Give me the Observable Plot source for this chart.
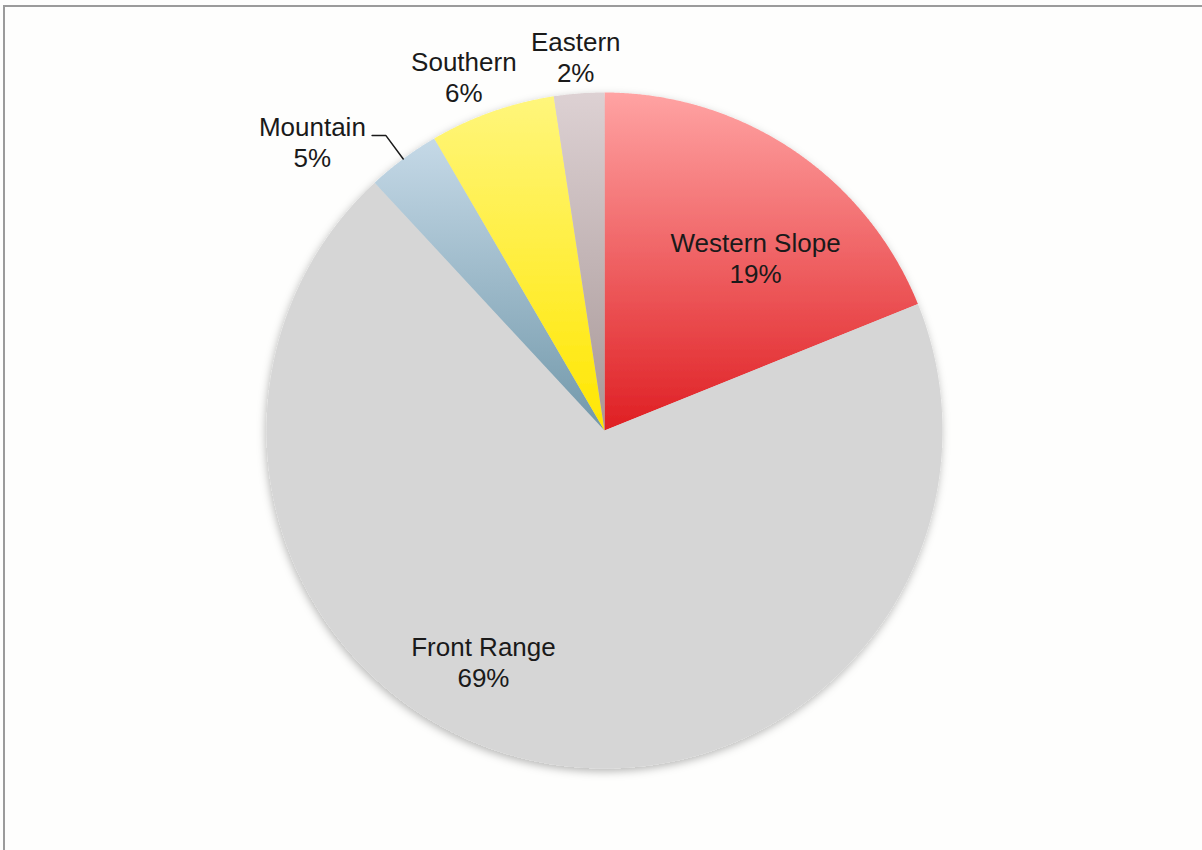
<!DOCTYPE html>
<html><head><meta charset="utf-8">
<script src="https://cdn.jsdelivr.net/npm/d3@7"></script>
<script src="https://cdn.jsdelivr.net/npm/@observablehq/plot@0.6"></script>
<style>
html,body{margin:0;padding:0;background:#fff;}
#wrap{position:relative;width:1202px;height:850px;overflow:hidden;background:#fefefd;}
#chart{position:absolute;left:0;top:0;}
#frame{position:absolute;left:3px;top:5px;right:-10px;bottom:-10px;border-left:2px solid #9b9b9b;border-top:2px solid #9b9b9b;pointer-events:none;}
</style></head><body>
<div id="wrap"><div id="chart"></div><div id="frame"></div></div>
<script>
// ---- data ----
const regions = ["Western Slope", "Front Range", "Mountain", "Southern", "Eastern"];
const shares = [18.9, 69.2, 3.5, 6.0, 2.4];
const shareLabels = ["19%", "69%", "5%", "6%", "2%"];
// ---- style ----
const gradTop = ["#ffa3a3", "#d6d6d6", "#c5d9e7", "#fff67c", "#ddd1d3"];
const gradBottom = ["#df1f23", "#d6d6d6", "#7298aa", "#ffe600", "#a79797"];
// label layout: angle offset from slice middle (deg) and radius (fraction of pie radius)
const labelAngleOffset = [7.3, 14.93, -8.9, -2.3, -0.1];
const labelRadius = [0.677, 0.7747, 1.213, 1.1235, 1.106];
const leaderFor = "Mountain";

const W = 1202, H = 850, CX = 604, CY = 430, R = 338;

const arcs = d3.pie().sort(null).value(d => d)(shares);
const pt = (a, r) => ({x: r * Math.sin(a), y: r * Math.cos(a)});

const sliceRows = [];
arcs.forEach((a, i) => {
  const name = regions[i];
  const fill = `url(#grad${i})`;
  sliceRows.push({name, fill, ...pt(0, 0)});
  const n = Math.max(2, Math.ceil((a.endAngle - a.startAngle) / (Math.PI / 720)));
  for (let k = 0; k <= n; k++) {
    const t = a.startAngle + (a.endAngle - a.startAngle) * k / n;
    sliceRows.push({name, fill, ...pt(t, 1)});
  }
  sliceRows.push({name, fill, ...pt(0, 0)});
});

const labelRows = arcs.map((a, i) => {
  const mid = (a.startAngle + a.endAngle) / 2 + labelAngleOffset[i] * Math.PI / 180;
  return {...pt(mid, labelRadius[i]), text: regions[i] + "\n" + shareLabels[i]};
});

const li = regions.indexOf(leaderFor);
const lmid = (arcs[li].startAngle + arcs[li].endAngle) / 2;
const l0 = pt(lmid, 1.0), l1 = pt(lmid, 1.086);
const leaderRows = [l0, l1, {x: l1.x - 0.041, y: l1.y}];

const defs = () => {
  const ns = "http://www.w3.org/2000/svg";
  const d = document.createElementNS(ns, "defs");
  let html = "";
  gradTop.forEach((c, i) => {
    html += `<linearGradient id="grad${i}" x1="0" y1="0" x2="0" y2="1"><stop offset="0" stop-color="${c}"/><stop offset="1" stop-color="${gradBottom[i]}"/></linearGradient>`;
  });
  html += `<filter id="pieShadow" x="-10%" y="-10%" width="120%" height="120%"><feDropShadow dx="-1" dy="3" stdDeviation="4" flood-color="#000" flood-opacity="0.28"/></filter>`;
  d.innerHTML = html;
  return d;
};

const chart = Plot.plot({
  width: W, height: H,
  margin: 0,
  x: {domain: [-CX / R, (W - CX) / R], axis: null},
  y: {domain: [-(H - CY) / R, CY / R], axis: null},
  color: {type: "identity"},
  style: {background: "transparent", overflow: "visible"},
  marks: [
    defs,
    Plot.line(sliceRows, {x: "x", y: "y", z: "name", fill: "fill", stroke: "none", curve: "linear"}),
    Plot.line(leaderRows, {x: "x", y: "y", stroke: "#1a1a1a", strokeWidth: 1.5}),
    Plot.text(labelRows, {x: "x", y: "y", text: "text", fontSize: 26, lineHeight: 31 / 26, dy: -1.5,
      fill: "#1a1a1a", fontFamily: "'Liberation Sans', Arial, sans-serif", textAnchor: "middle", lineAnchor: "middle"})
  ]
});
const g = chart.querySelector('g[aria-label="line"]');
if (g) g.setAttribute("filter", "url(#pieShadow)");
document.getElementById("chart").appendChild(chart);
</script>
</body></html>
